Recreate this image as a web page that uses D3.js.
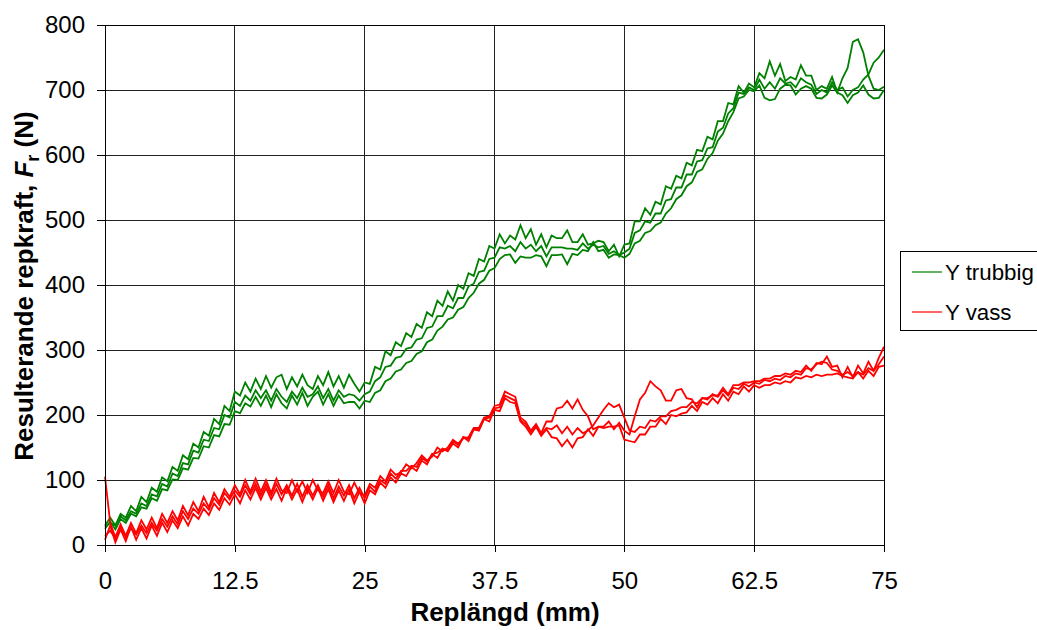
<!DOCTYPE html>
<html><head><meta charset="utf-8">
<script src="https://cdn.jsdelivr.net/npm/d3@7"></script>
<style>body{margin:0;background:#fff}svg{display:block}text{font-family:"Liberation Sans",Arial,sans-serif}</style>
</head><body>
<svg id="c" width="1037" height="630"></svg>
<script>
const xTicks = [0, 12.5, 25, 37.5, 50, 62.5, 75];
const xTickLabels = ["0", "12.5", "25", "37.5", "50", "62.5", "75"];
const yTicks = [0, 100, 200, 300, 400, 500, 600, 700, 800];
const seriesNames = ["Y trubbig", "Y vass"];
const seriesColors = ["#008000", "#ff0000"];
const sampleStep = 0.5; // mm between samples, 0..75

// Y trubbig, three passes
const greenA = [30,42,30,48,42,60,52,74,66,88, 82,104,98,120,114,138,132,156,150,174,
 168,194,186,214,206,236,230,250,236,256, 240,260,242,258,262,240,258,244,262,246,
 240,260,246,266,244,260,242,262,248,236, 250,248,274,270,298,292,312,306,326,320,
 340,334,358,352,376,368,390,376,400,394, 418,414,440,436,460,456,478,464,476,470,
 492,472,486,462,478,458,476,472,472,484, 466,466,478,462,464,468,466,452,462,444,
 462,464,498,498,518,508,528,524,552,548, 568,564,588,584,608,606,628,624,652,652,
 680,678,706,696,710,704,726,718,744,722, 740,714,720,716,738,722,722,700,706,702,
 720,696,718,734,774,778,758,722,702,700, 705];
const greenB = [25,36,24,40,34,48,44,58,56,72, 68,86,84,101,100,118,116,134,133,152,
 150,169,167,186,185,206,203,218,213,228, 214,230,212,232,218,210,230,216,234,214,
 228,236,216,232,214,230,218,220,220,210, 222,220,234,238,252,256,267,270,280,283,
 294,298,312,316,330,336,347,350,362,366, 380,388,402,408,422,426,440,446,447,434,
 444,442,442,446,444,429,446,446,447,432, 448,446,454,452,466,452,454,442,447,446,
 442,448,464,468,480,483,492,496,510,518, 532,538,552,558,574,578,594,603,622,633,
 652,666,687,690,700,698,707,688,684,686, 702,708,707,693,702,706,702,688,687,693,
 707,696,692,680,692,696,707,693,687,688, 700];
const greenC = [28,34,30,44,38,52,48,64,60,78, 75,94,90,110,106,126,124,145,142,162,
 160,180,178,200,196,220,214,230,222,238, 226,238,222,240,228,220,236,226,242,228,
 232,244,226,240,222,238,228,232,230,222, 232,236,252,258,274,276,288,290,302,304,
 316,318,334,336,352,352,368,364,380,380, 398,402,420,422,440,442,458,456,460,452,
 466,456,462,452,460,444,458,458,458,456, 456,454,464,456,462,458,460,448,452,446,
 450,456,480,484,498,496,510,510,530,532, 550,550,570,570,590,592,610,612,636,642,
 664,672,696,694,704,700,716,702,712,702, 718,710,712,704,718,712,708,694,700,696,
 712,700,704,690,700,704,716,724,742,750, 762];

// Y vass, three passes
const redA = [105,34,12,32,14,34,18,38,24,42, 26,48,34,52,38,60,46,66,52,74,
 58,80,66,86,74,92,78,100,82,102, 82,100,80,102,84,80,100,82,98,80,
 100,84,80,98,80,100,82,78,96,80, 76,94,88,106,98,116,108,112,124,118,
 126,138,130,136,150,144,150,162,156,164, 166,180,180,196,198,214,216,236,232,228,
 196,190,176,186,172,190,190,210,212,222, 210,224,208,198,178,182,182,190,178,188,
 176,170,198,224,234,252,244,238,222,222, 238,240,226,224,212,226,226,230,230,242,
 232,246,246,250,250,252,252,256,256,260, 260,264,262,268,266,276,268,280,278,290,
 274,276,258,274,258,276,264,282,268,288, 305];
const redB = [8,30,4,24,6,28,8,26,10,30, 14,34,20,38,26,44,30,48,40,56,
 46,64,54,72,62,78,64,84,70,88, 70,88,70,86,68,88,70,86,66,86,
 70,88,68,86,66,84,68,86,64,82, 64,84,78,96,88,104,96,110,106,120,
 114,130,124,140,134,148,144,156,150,166, 160,178,176,194,190,208,206,226,220,218,
 190,182,170,182,168,178,166,164,152,162, 150,164,166,178,168,182,180,182,182,184,
 162,160,158,170,170,182,182,194,186,200, 198,202,204,214,206,220,216,226,218,232,
 222,236,232,244,236,246,242,246,246,250, 248,252,250,258,256,260,258,262,260,262,
 262,264,260,258,256,266,256,268,260,274, 276];
const redC = [14,22,10,28,12,26,16,30,18,34, 22,40,28,44,32,52,40,56,48,64,
 54,72,62,80,70,84,74,92,78,94, 76,94,76,94,78,92,76,94,74,92,
 76,92,74,92,72,90,76,92,72,88, 72,90,82,100,94,110,102,114,114,122,
 120,134,128,140,142,148,146,160,154,166, 164,178,178,194,196,210,212,230,226,222,
 192,186,174,184,170,180,178,184,172,182, 170,180,172,176,184,196,208,218,212,216,
 196,176,174,182,180,192,190,198,198,206, 208,212,212,220,218,226,224,232,228,238,
 230,242,240,248,244,250,248,254,252,256, 254,260,258,264,262,272,270,278,282,280,
 270,268,262,266,260,266,262,272,268,278, 290];

const svg = d3.select("#c");
const L = 105, R = 884, T = 25, B = 545;
const x = d3.scaleLinear().domain([0, 75]).range([L, R]);
const y = d3.scaleLinear().domain([0, 800]).range([B, T]);

// grid
const g = svg.append("g");
g.selectAll(".hg").data(yTicks).join("line")
  .attr("x1", L).attr("x2", R).attr("y1", d => y(d)).attr("y2", d => y(d))
  .attr("stroke", "#222").attr("stroke-width", 1).attr("shape-rendering", "crispEdges");
g.selectAll(".vg").data(xTicks).join("line")
  .attr("y1", T).attr("y2", B).attr("x1", d => x(d)).attr("x2", d => x(d))
  .attr("stroke", "#222").attr("stroke-width", 1).attr("shape-rendering", "crispEdges");

// lines
const line = d3.line().x((d, i) => x(i * sampleStep)).y(d => y(d));
const series = [
  {data: greenA, c: seriesColors[0]}, {data: greenB, c: seriesColors[0]}, {data: greenC, c: seriesColors[0]},
  {data: redA, c: seriesColors[1]}, {data: redB, c: seriesColors[1]}, {data: redC, c: seriesColors[1]}
];
svg.append("g").selectAll("path").data(series).join("path")
  .attr("d", d => line(d.data)).attr("fill", "none")
  .attr("stroke", d => d.c).attr("stroke-width", 1.8).attr("stroke-linejoin", "miter");

// frame
svg.append("rect").attr("x", L).attr("y", T).attr("width", R - L).attr("height", B - T)
  .attr("fill", "none").attr("stroke", "#000").attr("stroke-width", 1).attr("shape-rendering", "crispEdges");

// axes
const ya = svg.append("g").attr("transform", `translate(${L},0)`)
  .call(d3.axisLeft(y).tickValues(yTicks).tickSize(8).tickSizeOuter(0).tickPadding(12));
ya.select(".domain").remove();
ya.selectAll("text").attr("font-size", 24).attr("fill", "#000").attr("font-family", "Liberation Sans, Arial, sans-serif");
ya.selectAll("line").attr("stroke", "#000").attr("shape-rendering", "crispEdges");

const xa = svg.append("g").attr("transform", `translate(0,${B})`)
  .call(d3.axisBottom(x).tickValues(xTicks).tickFormat((d, i) => xTickLabels[i]).tickSize(7).tickSizeOuter(0).tickPadding(20));
xa.select(".domain").remove();
xa.selectAll("text").attr("font-size", 24).attr("fill", "#000").attr("font-family", "Liberation Sans, Arial, sans-serif");
xa.selectAll("line").attr("stroke", "#000").attr("shape-rendering", "crispEdges");

// titles
svg.append("text").attr("x", 505).attr("y", 621).attr("text-anchor", "middle")
  .attr("font-size", 26).attr("font-weight", "bold").text("Replängd (mm)");
const yt = svg.append("text").attr("transform", "translate(33,286) rotate(-90)")
  .attr("text-anchor", "middle").attr("font-size", 26).attr("font-weight", "bold");
yt.append("tspan").text("Resulterande repkraft, ");
yt.append("tspan").attr("font-style", "italic").text("F");
yt.append("tspan").attr("font-size", 18).attr("dy", 6).text("r");
yt.append("tspan").attr("dy", -6).text(" (N)");

// legend
const lg = svg.append("g");
lg.append("rect").attr("x", 900.5).attr("y", 251.5).attr("width", 160).attr("height", 79)
  .attr("fill", "#fff").attr("stroke", "#000").attr("stroke-width", 1);
seriesNames.forEach((n, i) => {
  const yy = 272 + i * 40;
  lg.append("line").attr("x1", 912).attr("x2", 942).attr("y1", yy).attr("y2", yy)
    .attr("stroke", seriesColors[i]).attr("stroke-width", 1.2);
  lg.append("text").attr("x", 945).attr("y", yy + 8).attr("font-size", 22.3).text(n);
});
</script>
</body></html>
